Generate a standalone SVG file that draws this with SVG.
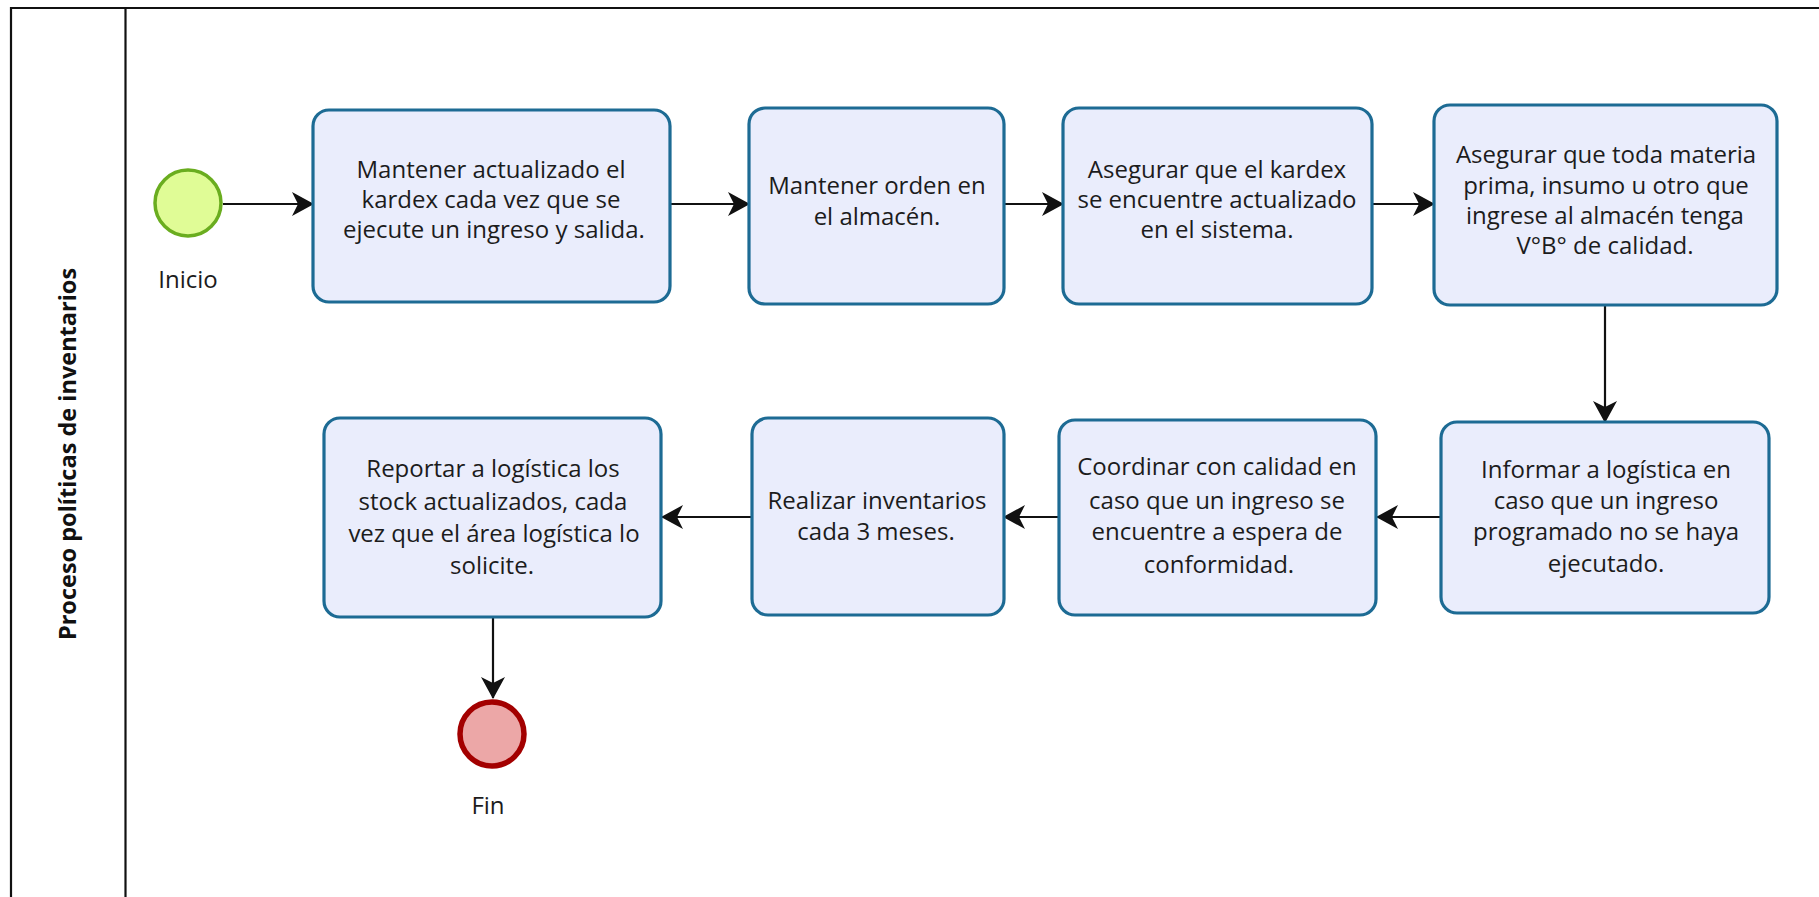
<svg xmlns="http://www.w3.org/2000/svg" width="1819" height="897" viewBox="0 0 1819 897">
  <style>
    .pool { fill: none; stroke: #111; stroke-width: 2.2; }
    .task { fill: #eaedfc; stroke: #1d6b94; stroke-width: 3.2; }
    .txt { font-family: "Open Sans", "Noto Sans", "DejaVu Sans", sans-serif; font-size: 24px; fill: #1c1c1c; text-anchor: middle; }
    .lane { font-family: "Open Sans", "Noto Sans", "DejaVu Sans", sans-serif; font-size: 23.5px; font-weight: bold; fill: #111; text-anchor: middle; }
    .flow { fill: none; stroke: #111; stroke-width: 2.2; marker-end: url(#arrow); }
    .start { fill: #e0fc96; stroke: #6aad1f; stroke-width: 3.5; }
    .end { fill: #eca7a7; stroke: #a30000; stroke-width: 5.5; }
  </style>
  <defs>
    <marker id="arrow" viewBox="0 0 22 24" refX="21" refY="12" markerWidth="22" markerHeight="24" markerUnits="userSpaceOnUse" orient="auto">
      <path d="M0,0 L22,12 L0,24 L6,12 Z" fill="#111"/>
    </marker>
  </defs>

  <rect width="1819" height="897" fill="#ffffff"/>

  <!-- pool and lane header -->
  <g id="pool">
    <path class="pool" d="M1830,8 L11,8 L11,910"/>
    <line class="pool" x1="125.5" y1="8" x2="125.5" y2="910"/>
    <text class="lane" transform="translate(76,454) rotate(-90)">Proceso políticas de inventarios</text>
  </g>

  <!-- connectors -->
  <g id="connectors">
    <line class="flow" x1="223" y1="204" x2="313" y2="204"/>
    <line class="flow" x1="670" y1="204" x2="749" y2="204"/>
    <line class="flow" x1="1004" y1="204" x2="1063" y2="204"/>
    <line class="flow" x1="1372" y1="204" x2="1434" y2="204"/>
    <line class="flow" x1="1605" y1="306" x2="1605" y2="422"/>
    <line class="flow" x1="1441" y1="517" x2="1377" y2="517"/>
    <line class="flow" x1="1059" y1="517" x2="1004" y2="517"/>
    <line class="flow" x1="752" y1="517" x2="662" y2="517"/>
    <line class="flow" x1="493" y1="617" x2="493" y2="698"/>
  </g>

  <!-- start event -->
  <g id="inicio">
    <circle class="start" cx="188" cy="203" r="33"/>
    <text class="txt" x="188" y="288">Inicio</text>
  </g>

  <!-- tasks, top row -->
  <g id="task1">
    <rect class="task" x="313" y="110" width="357" height="192" rx="16"/>
    <text class="txt" x="491" y="178">Mantener actualizado el</text>
    <text class="txt" x="491" y="208">kardex cada vez que se</text>
    <text class="txt" x="494" y="238">ejecute un ingreso y salida.</text>
  </g>

  <g id="task2">
    <rect class="task" x="749" y="108" width="255" height="196" rx="16"/>
    <text class="txt" x="877" y="194">Mantener orden en</text>
    <text class="txt" x="877" y="225">el almacén.</text>
  </g>

  <g id="task3">
    <rect class="task" x="1063" y="108" width="309" height="196" rx="16"/>
    <text class="txt" x="1217" y="178">Asegurar que el kardex</text>
    <text class="txt" x="1217" y="208">se encuentre actualizado</text>
    <text class="txt" x="1217" y="238">en el sistema.</text>
  </g>

  <g id="task4">
    <rect class="task" x="1434" y="105" width="343" height="200" rx="16"/>
    <text class="txt" x="1606" y="163">Asegurar que toda materia</text>
    <text class="txt" x="1606" y="194">prima, insumo u otro que</text>
    <text class="txt" x="1605" y="224">ingrese al almacén tenga</text>
    <text class="txt" x="1605" y="254">V°B° de calidad.</text>
  </g>

  <!-- tasks, bottom row -->
  <g id="task5">
    <rect class="task" x="1441" y="422" width="328" height="191" rx="16"/>
    <text class="txt" x="1606" y="478">Informar a logística en</text>
    <text class="txt" x="1606" y="509">caso que un ingreso</text>
    <text class="txt" x="1606" y="540">programado no se haya</text>
    <text class="txt" x="1606" y="572">ejecutado.</text>
  </g>

  <g id="task6">
    <rect class="task" x="1059" y="420" width="317" height="195" rx="16"/>
    <text class="txt" x="1217" y="475">Coordinar con calidad en</text>
    <text class="txt" x="1217" y="509">caso que un ingreso se</text>
    <text class="txt" x="1217" y="540">encuentre a espera de</text>
    <text class="txt" x="1219" y="573">conformidad.</text>
  </g>

  <g id="task7">
    <rect class="task" x="752" y="418" width="252" height="197" rx="16"/>
    <text class="txt" x="877" y="509">Realizar inventarios</text>
    <text class="txt" x="876" y="540">cada 3 meses.</text>
  </g>

  <g id="task8">
    <rect class="task" x="324" y="418" width="337" height="199" rx="16"/>
    <text class="txt" x="493" y="477">Reportar a logística los</text>
    <text class="txt" x="493" y="510">stock actualizados, cada</text>
    <text class="txt" x="494" y="542">vez que el área logística lo</text>
    <text class="txt" x="492" y="574">solicite.</text>
  </g>

  <!-- end event -->
  <g id="fin">
    <circle class="end" cx="492" cy="734" r="32"/>
    <text class="txt" x="488" y="814">Fin</text>
  </g>
</svg>
